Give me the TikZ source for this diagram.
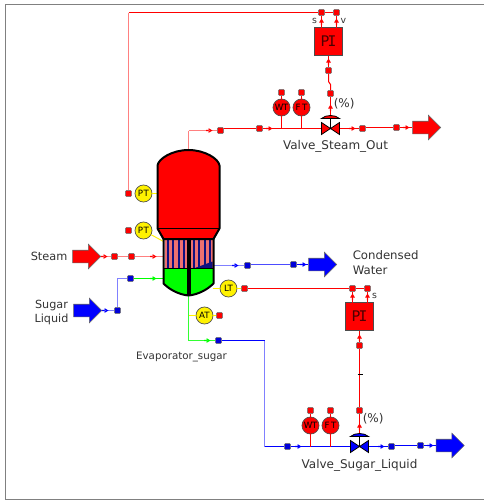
\documentclass[tikz,border=0pt]{standalone}
\usepackage{fontspec}
\setmainfont{DejaVu Sans}
\newfontfamily\pifont{DejaVu Sans Mono}
\usetikzlibrary{shapes.arrows}
\definecolor{pinkline}{HTML}{FF8080}
\definecolor{paleblue}{HTML}{8080FF}
\definecolor{tubepink}{HTML}{EE7070}
\definecolor{navytube}{HTML}{101080}
\definecolor{labelgrey}{HTML}{333333}
\newcommand{\tipmark}[4]{\fill[#4,shift={(#1,#2)},rotate=#3] (-3.5,-0.7) rectangle (0,0.7) (-1,-2.4) -- (3,0) -- (-1,2.4) -- cycle;}
\newcommand{\valvebody}[3]{%
  \draw[black,line width=0.6pt,fill=#3] (#1-9,#2-6) -- (#1+9,#2+6) -- (#1+9,#2-6) -- (#1-9,#2+6) -- cycle;
  \draw[black,line width=0.75pt] (#1,#2) -- (#1,#2-10);
  \draw[black,line width=0.6pt,fill=#3] (#1-9,#2-10) .. controls (#1-5,#2-14) and (#1+5,#2-14) .. (#1+9,#2-10) -- cycle;}
\tikzset{
  x=0.75pt,y=-0.75pt,
  lbl/.style={font=\fontsize{8.2}{10.5}\selectfont,text=labelgrey,inner sep=0pt,align=center},
  sig/.style={inner sep=0pt,font=\fontsize{7}{7}\selectfont,text=labelgrey},
  mark red/.style={draw=black!65,fill=red,line width=0.4pt,rounded corners=0.6pt,minimum size=4.4pt,inner sep=0pt},
  mark blue/.style={draw=black!65,fill=blue!85!black,line width=0.4pt,rounded corners=0.6pt,minimum size=4.4pt,inner sep=0pt},
  instr/.style={circle,draw=black!70,line width=0.5pt,minimum size=12.8pt,inner sep=0pt,font=\fontsize{6.5}{7}\selectfont,text=black},
  yinstr/.style={instr,fill=yellow},
  rinstr/.style={instr,fill=red},
  pibox/.style={draw=black!70,fill=red,line width=0.6pt,minimum size=21.5pt,inner sep=0pt,font=\pifont\fontsize{11}{13}\selectfont,text=black!70!red},
  bigflow/.style={single arrow,draw=black!60,line width=0.4pt,minimum height=21pt,minimum width=18pt,single arrow head extend=4.5pt,single arrow tip angle=90,single arrow head indent=0pt,inner xsep=0pt,inner ysep=4.5pt},
  rline/.style={draw=red,line width=0.75pt},
  pline/.style={draw=pinkline,line width=1pt},
  bline/.style={draw=blue,line width=0.75pt},
  bpale/.style={draw=paleblue,line width=1pt},
  gline/.style={draw=green,line width=0.75pt},
  yline/.style={draw=yellow,line width=0.7pt},
}
\begin{document}
\begin{tikzpicture}
\useasboundingbox (0,0) rectangle (484,500);
\fill[white] (0,0) rectangle (484,500);
\begin{scope}[shift={(0.5,0.5)}]
% frame
\draw[gray,line width=1.4pt] (5,499) -- (5,4) -- (484,4);
\draw[gray,line width=1.4pt] (5,499) -- (484,499);

% coordinates on the vessel
\coordinate (vtop) at (188,150);
\coordinate (vbot) at (188,295);
\coordinate (vsteam) at (163,256);
\coordinate (vsugar) at (163,278);
\coordinate (vcond) at (213,265);
\coordinate (vlt) at (212,288);
\coordinate (vpt1) at (157,193);
\coordinate (vpt2) at (163,241);
\coordinate (vat) at (188,315);
\coordinate (c1) at (128,12);
\coordinate (c2) at (188,130);
\coordinate (c3) at (117,278);
\coordinate (c4) at (188,340);
\coordinate (c5) at (264,340);
\coordinate (c6) at (264,446);

% valves and end points
\coordinate (v1) at (330,128);
\coordinate (v2) at (359,446);

% nodes
\node[pibox] (pi1) at (328,41) {P\kern-1.5ptI};
\node[pibox] (pi2) at (359,316) {P\kern-1.5ptI};
\node[mark red] (m1s) at (321,12) {};
\node[mark red] (m1v) at (336,12) {};
\node[mark red] (m1o) at (328,70) {};
\node[mark red] (m1p) at (330,93) {};
\node[mark red] (ms1) at (220,130) {};
\node[mark red] (ms2) at (259,128) {};
\node[mark red] (ms3) at (362,128) {};
\node[mark red] (ms4) at (396,127) {};
\node[rinstr] (wt1) at (281,107) {W\kern-0.4ptT};
\node[rinstr] (ft1) at (301,107) {F\,T};
\node[mark red] (wt1m) at (281,92) {};
\node[mark red] (ft1m) at (301,92) {};
\node[yinstr] (pt1) at (143,193) {P\kern0.4ptT};
\node[yinstr] (pt2) at (143,230) {P\kern0.4ptT};
\node[mark red] (pt1m) at (128,193) {};
\node[mark red] (pt2m) at (128,230) {};
\node[mark red] (st1) at (114,256) {};
\node[mark red] (st2) at (131,256) {};
\node[mark blue] (su1) at (117,310) {};
\node[mark blue] (su2) at (130,278) {};
\node[yinstr] (at) at (204,315) {AT};
\node[mark red] (atm) at (219,315) {};
\node[mark blue] (bo1) at (218,340) {};
\node[yinstr] (lt) at (228,288) {LT};
\node[mark red] (ltm) at (244,288) {};
\node[mark red] (m2a) at (352,288) {};
\node[mark red] (m2s) at (367,288) {};
\node[mark red] (m2o) at (359,345) {};
\node[mark red] (m2p) at (359,410) {};
\node[mark blue] (co1) at (247,265) {};
\node[mark blue] (co2) at (293,264) {};
\node[mark blue] (li1) at (287,446) {};
\node[mark blue] (li2) at (391,446) {};
\node[mark blue] (li3) at (420,445) {};
\node[rinstr] (wt2) at (310,425) {W\kern-0.4ptT};
\node[rinstr] (ft2) at (330,425) {F\,T};
\node[mark red] (wt2m) at (310,410) {};
\node[mark red] (ft2m) at (330,410) {};
\node[bigflow,fill=red] (outsteam) at (423,127) {};
\node[bigflow,fill=red] (insteam) at (83,256) {};
\node[bigflow,fill=blue] (insugar) at (84,310) {};
\node[bigflow,fill=blue] (outcond) at (319,264) {};
\node[bigflow,fill=blue] (outliq) at (446.5,445) {};

% connectors
\draw[pline] (pt1m) -- (c1);
\draw[rline] (c1) -- (m1s);
\draw[rline] (m1s) -- (m1v);
\draw[rline] (m1s) -- (321,27);
\draw[rline] (m1v) -- (336,27);
\draw[rline] (pi1) -- (m1o);
\draw[rline] (m1o) -- (328,81) -- (330,84) -- (m1p);
\draw[rline] (m1p) -- (330,117);
\draw[pline] (vtop) -- (c2);
\draw[pline] (c2) -- (ms1);
\draw[rline] (ms1.east |- ms2) -- (ms2);
\draw[rline] (ms2) -- (v1);
\draw[rline] (v1) -- (ms3);
\draw[rline] (ms3.east |- ms4) -- (ms4);
\draw[rline] (ms4) -- (outsteam);
\draw[rline] (wt1m) -- (wt1);
\draw[rline] (ft1m) -- (ft1);
\draw[rline] (wt1) -- (wt1 |- ms2);
\draw[rline] (ft1) -- (ft1 |- ms2);
\draw[yline] (pt1) -- (vpt1);
\draw[yline] (pt2) -- (vpt2);
\draw[pline] (insteam) -- (st1);
\draw[pline] (st1) -- (st2);
\draw[pline] (st2) -- (vsteam);
\draw[bpale] (insugar) -- (su1);
\draw[bpale] (su1) -- (c3) -- (su2);
\draw[gline] (su2) -- (vsugar);
\draw[draw=green!80!white,line width=0.9pt] (vbot) -- (c4) -- (bo1);
\draw[yline] (vat) -- (at);
\draw[yline] (at) -- (atm);
\draw[bline] (bo1) -- (c5);
\draw[bpale] (c5) -- (c6);
\draw[bline] (c6) -- (li1);
\draw[bline] (li1) -- (v2);
\draw[bline] (v2) -- (li2);
\draw[bline] (li2.east |- li3) -- (li3);
\draw[bline] (li3) -- (outliq);
\draw[bpale] (vcond) -- (co1);
\draw[draw=blue!70!white,line width=0.75pt] (co1.east |- co2) -- (co2);
\draw[bline] (co2) -- (outcond);
\draw[yline] (vlt) -- (lt);
\draw[yline] (lt) -- (ltm);
\draw[rline] (ltm) -- (m2a);
\draw[rline] (m2a) -- (m2s);
\draw[rline] (m2a) -- (352,302);
\draw[rline] (m2s) -- (367,302);
\draw[rline] (pi2) -- (m2o);
\draw[rline] (m2o) -- (m2p);
\draw[rline] (m2p) -- (359,436);
\draw[black,line width=0.5pt] (357,374) -- (362,374);
\draw[rline] (wt2m) -- (wt2);
\draw[rline] (ft2m) -- (ft2);
\draw[rline] (wt2) -- (wt2 |- li1);
\draw[rline] (ft2) -- (ft2 |- li1);

% vessel
\fill[tubepink] (164,238) rectangle (212,268);
\foreach \xx in {167,172.5,178,183.5,193,198.5,204,209.5}
  \fill[navytube] (\xx-1,238) rectangle (\xx+1,268);
\fill[navytube] (193,268) -- (212,261) -- (212,268) -- cycle;
\fill[green] (163,268) -- (213,268) -- (213,283) .. controls (207,289) and (198,294) .. (188,295) .. controls (178,294) and (169,289) .. (163,283) -- cycle;
\draw[black,line width=1.5pt,fill=red,line join=round] (157,228) -- (157,165) .. controls (158,158) and (172,149.5) .. (188,149.5) .. controls (204,149.5) and (218,158) .. (219,165) -- (219,228) -- (213,238.5) -- (163,238.5) -- cycle;
\draw[black,line width=1.2pt] (157,228) -- (219,228);
\draw[black,line width=1.5pt,line join=round] (163,238) -- (163,283) .. controls (169,289) and (178,294) .. (188,295) .. controls (198,294) and (207,289) .. (213,283) -- (213,238);
\draw[black,line width=0.9pt] (163,268) -- (213,268);
\fill[black] (186,238) rectangle (190,295);

% valves
\valvebody{330}{128}{red}
\valvebody{359}{446}{blue}
\tipmark{209}{130}{0}{red}
\tipmark{269}{128}{0}{red}
\tipmark{352}{128}{0}{red}
\tipmark{406}{127}{0}{red}
\tipmark{321}{21}{90}{red}
\tipmark{336}{21}{90}{red}
\tipmark{328}{61}{90}{red}
\tipmark{330}{107}{90}{red}
\tipmark{104}{256}{0}{red}
\tipmark{153}{256}{0}{red}
\tipmark{105}{310}{0}{blue}
\tipmark{153}{278}{0}{green}
\tipmark{207}{340}{0}{green}
\tipmark{235}{265}{0}{blue}
\tipmark{303}{264}{0}{blue}
\tipmark{352}{296}{90}{red}
\tipmark{367}{296}{90}{red}
\tipmark{359}{337}{90}{red}
\tipmark{359}{426}{90}{red}
\tipmark{298}{446}{0}{blue}
\tipmark{381}{446}{0}{blue}
\tipmark{430}{445}{0}{blue}

% labels
\node[sig] (s1) at (314,20) {s};
\node[sig] (v1l) at (343,20) {v};
\node[sig] (s2) at (374,295) {s};
\node[lbl,anchor=west,font=\fontsize{9}{11}\selectfont] (pct1) at (333,103) {(\%)};
\node[lbl,anchor=west,font=\fontsize{9}{11}\selectfont] (pct2) at (362,418) {(\%)};
\node[lbl,font=\fontsize{9}{11}\selectfont] (t1) at (335,146) {Valve\_Steam\_Out};
\node[lbl,font=\fontsize{9}{11}\selectfont] (t2) at (359,465) {Valve\_Sugar\_Liquid};
\node[lbl,font=\fontsize{7.7}{10}\selectfont] (t3) at (181,356) {Evaporator\_sugar};
\node[lbl,anchor=west,font=\fontsize{8.5}{10}\selectfont] (t4) at (30,256) {Steam};
\node[lbl,font=\fontsize{8.4}{10.7}\selectfont] (t5) at (51,312) {Sugar\\Liquid};
\node[lbl,align=left,anchor=west,font=\fontsize{8.8}{10.7}\selectfont] (t6) at (352,262) {Condensed\\Water};
\end{scope}
\end{tikzpicture}
\end{document}
